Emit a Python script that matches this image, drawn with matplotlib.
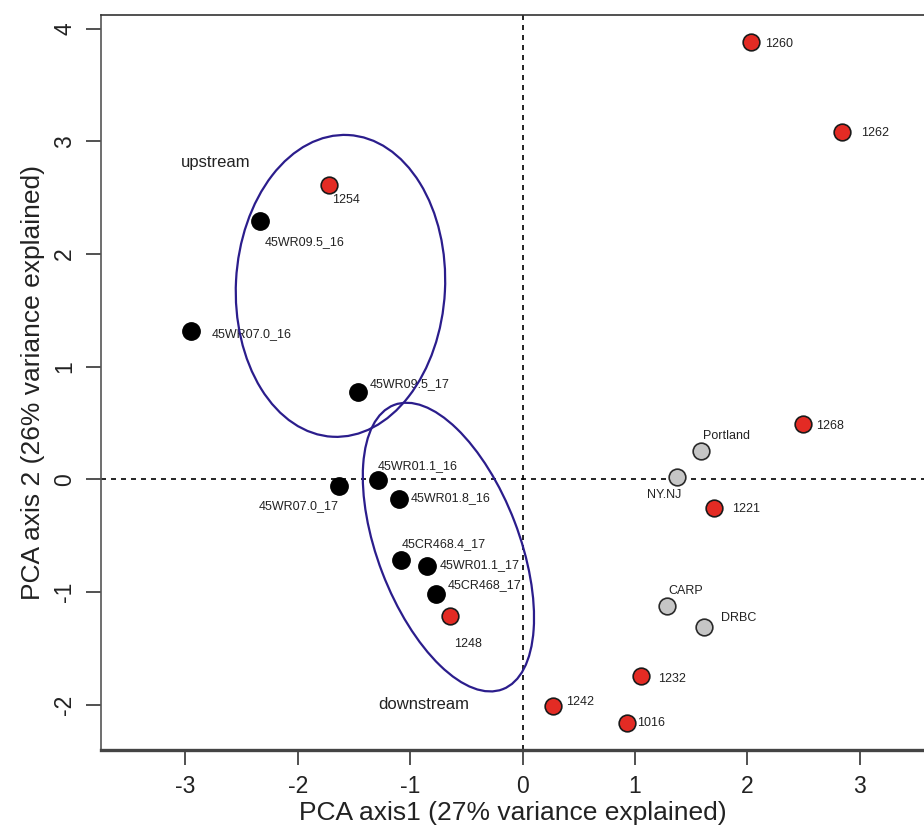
import matplotlib
matplotlib.use("Agg")
import matplotlib.pyplot as plt
from matplotlib.patches import Ellipse

plt.rcParams['font.family'] = ['Liberation Sans', 'DejaVu Sans']
plt.rcParams['axes.unicode_minus'] = False

# PCA site scores
site_names = ["45WR09.5_16", "45WR07.0_16", "45WR09.5_17", "45WR07.0_17",
              "45WR01.1_16", "45WR01.8_16", "45CR468.4_17", "45WR01.1_17",
              "45CR468_17"]
site_x = [-2.34, -2.947, -1.461, -1.630, -1.286, -1.097, -1.082, -0.851, -0.766]
site_y = [2.294, 1.320, 0.774, -0.058, -0.004, -0.176, -0.714, -0.768, -1.016]

ref_names = ["1260", "1262", "1254", "1268", "1221", "1248", "1232", "1242", "1016"]
ref_x = [2.035, 2.844, -1.718, 2.494, 1.701, -0.647, 1.052, 0.271, 0.925]
ref_y = [3.879, 3.086, 2.613, 0.492, -0.250, -1.208, -1.744, -2.010, -2.158]

other_names = ["Portland", "NY.NJ", "CARP", "DRBC"]
other_x = [1.588, 1.369, 1.286, 1.615]
other_y = [0.253, 0.020, -1.120, -1.306]

# group ellipses: centre x, centre y, width, height, angle
ellipse_groups = ["upstream", "downstream"]
ell_cx = [-1.62, -0.66]
ell_cy = [1.717, -0.60]
ell_w = [2.68, 2.70]
ell_h = [1.86, 1.26]
ell_ang = [87, 111]

# label offsets in pixels (dx right, dy down) and alignment
label_style = {
    "45WR09.5_16": (5, 21, "left"), "45WR07.0_16": (20, 3, "left"),
    "45WR09.5_17": (11, -8, "left"), "45WR07.0_17": (-1, 20, "right"),
    "45WR01.1_16": (0, -14, "left"), "45WR01.8_16": (11, -1, "left"),
    "45CR468.4_17": (1, -16, "left"), "45WR01.1_17": (13, -1, "left"),
    "45CR468_17": (11, -9, "left"),
    "1260": (14, 2, "left"), "1262": (19, 1, "left"), "1254": (3, 15, "left"),
    "1268": (13, 2, "left"), "1221": (18, 1, "left"), "1248": (4, 28, "left"),
    "1232": (17, 3, "left"), "1242": (13, -4, "left"), "1016": (10, 0, "left"),
    "Portland": (2, -15, "left"), "NY.NJ": (-12, 18, "center"),
    "CARP": (1, -15, "left"), "DRBC": (17, -9, "left"),
}

fig = plt.figure(figsize=(9.24, 8.31), dpi=100)
ax = fig.add_axes([101 / 924, 81 / 831, 1 - 101 / 924, (750 - 15) / 831])

ax.axhline(0, color='black', lw=1.2, ls=(0, (3, 3)), zorder=1)
ax.axvline(0, color='black', lw=1.2, ls=(0, (3, 3)), zorder=1)

ax.plot(site_x, site_y, 'o', ms=12.5, mfc='black', mec='black', mew=1, zorder=3)
ax.plot(ref_x, ref_y, 'o', ms=12, mfc='#e32b24', mec='#1a1a1a', mew=1.2, zorder=3)
ax.plot(other_x, other_y, 'o', ms=12, mfc='#c6c6c6', mec='#2a2a2a', mew=1.2, zorder=3)

for names, xs, ys in [(site_names, site_x, site_y), (ref_names, ref_x, ref_y),
                      (other_names, other_x, other_y)]:
    for n, x, y in zip(names, xs, ys):
        dx, dy, ha = label_style[n]
        ax.annotate(n, (x, y), xytext=(dx * 0.72, -dy * 0.72), textcoords='offset points',
                    ha=ha, va='center', fontsize=9, color='#222222', zorder=4)

for i in range(len(ellipse_groups)):
    e = Ellipse((ell_cx[i], ell_cy[i]), ell_w[i], ell_h[i], angle=ell_ang[i],
                fill=False, ec='#2b1d8c', lw=1.6, zorder=5)
    ax.add_patch(e)

ax.text(-3.04, 2.81, "upstream", fontsize=12, ha='left', va='center', color='#222222')
ax.text(-1.28, -2.0, "downstream", fontsize=12, ha='left', va='center', color='#222222')

ax.set_xlim(-3.75, 3.57)
ax.set_ylim(-2.40, 4.12)
ax.set_xticks([-3, -2, -1, 0, 1, 2, 3])
ax.set_yticks([-2, -1, 0, 1, 2, 3, 4])
ax.tick_params(axis='both', length=11, width=1.2, color='#333333', labelsize=16.5,
               pad=7, labelcolor='#222222')
for lab in ax.get_yticklabels():
    lab.set_rotation(90)
    lab.set_va('center')

ax.spines['right'].set_visible(False)
ax.spines['top'].set_linewidth(1.2)
ax.spines['top'].set_color('#333333')
ax.spines['left'].set_linewidth(1.2)
ax.spines['left'].set_color('#555555')
ax.spines['bottom'].set_linewidth(2.4)
ax.spines['bottom'].set_color('#444444')

ax.set_xlabel("PCA axis1 (27% variance explained)", fontsize=19, color='#222222', labelpad=2)
ax.set_ylabel("PCA axis 2 (26% variance explained)", fontsize=19, color='#222222', labelpad=6)

fig.savefig("out.png", dpi=100)
